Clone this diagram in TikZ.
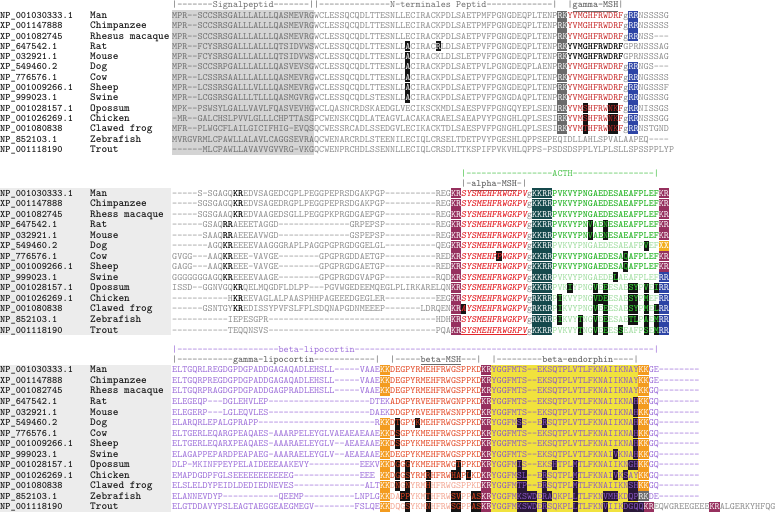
\documentclass[tikz,border=0pt]{standalone}
\usepackage{xcolor}
\definecolor{seqgry}{HTML}{8A8A8A}
\definecolor{sigtxt}{HTML}{6E6E6E}
\definecolor{sigbg}{HTML}{D4D4D4}
\definecolor{rkgray}{HTML}{6A6A6A}
\definecolor{rrblue}{HTML}{2D44A5}
\definecolor{gamred}{HTML}{C62828}
\definecolor{kkmaroon}{HTML}{96305E}
\definecolor{alpred}{HTML}{E3262B}
\definecolor{kkteal}{HTML}{15494C}
\definecolor{actgrn}{HTML}{2AB52A}
\definecolor{actfad}{HTML}{9ADB9A}
\definecolor{hlgrn}{HTML}{33CC33}
\definecolor{xxorg}{HTML}{F2B01E}
\definecolor{lipo}{HTML}{9A6AD8}
\definecolor{kkorg}{HTML}{F39B1F}
\definecolor{bmsh}{HTML}{E2431F}
\definecolor{bmshfad}{HTML}{F2A08C}
\definecolor{endyel}{HTML}{F1E23D}
\definecolor{endp}{HTML}{8B57C9}
\definecolor{hlblk}{HTML}{141414}
\definecolor{hlpur}{HTML}{2A1838}
\definecolor{hdrgrn}{HTML}{45C045}
\definecolor{hdrgry}{HTML}{6A6A6A}
\definecolor{namebg}{HTML}{ECECEC}
\definecolor{idtext}{HTML}{1A1A1A}

\newcommand{\seqfont}{\fontsize{9.657}{10}\selectfont\ttfamily}
\newcommand{\cw}{5.07}
\newcommand{\bl}{2.95}
% letter colours inside a row
\newcommand{\cW}[1]{\textcolor{white}{#1}}
\newcommand{\cR}[1]{\textcolor{gamred}{#1}}
\newcommand{\cK}[1]{\textcolor{black}{\bfseries #1}}
\newcommand{\cA}[1]{\textcolor{alpred}{\bfseries\itshape #1}}
\newcommand{\cG}[1]{\textcolor{actgrn}{\bfseries #1}}
\newcommand{\cF}[1]{\textcolor{actfad}{#1}}
\newcommand{\cH}[1]{\textcolor{hlgrn}{\bfseries #1}}
\newcommand{\cM}[1]{\textcolor{bmsh}{#1}}
\newcommand{\cL}[1]{\textcolor{bmshfad}{#1}}
\newcommand{\cE}[1]{\textcolor{endp}{#1}}
\newcommand{\cS}[1]{\textcolor{seqgry}{#1}}
% row text and box at column
\newcommand{\sq}[4]{\node[seq,#3] (\blk r#1c#2) at ({172+#2*\cw},{\yo+\dy*(#1-1)+\bl}) {#4};}
\newcommand{\bx}[4]{\fill[#4] ({172+#2*\cw},{\yo+\dy*(#1-1)-5}) rectangle ++({#3*\cw},10);}
% accession and species column
\newcommand{\idcol}[4]{%
  \foreach \idn/\spc [count=\i] in {NP\_001030333.1/Man, XP\_001147888/Chimpanzee,
      XP\_001082745/#3, NP\_647542.1/Rat, NP\_032921.1/Mouse, XP\_549460.2/Dog,
      NP\_776576.1/Cow, NP\_001009266.1/Sheep, NP\_999023.1/Swine,
      NP\_001028157.1/Opossum, NP\_001026269.1/Chicken, NP\_001080838/Clawed frog,
      NP\_852103.1/Zebrafish, NP\_001118190/Trout}
  {\node[idtxt] (#4id\i) at (0,{#1+#2*(\i-1)+\bl}) {\idn};
   \node[sptxt] (#4sp\i) at (90,{#1+#2*(\i-1)+\bl}) {\spc};}}

\begin{document}
\begin{tikzpicture}[x=1pt, y=-1pt,
    seq/.style={inner sep=0pt, anchor=base west, font=\seqfont, text=seqgry},
    sig/.style={text=sigtxt},
    lp/.style={text=lipo},
    hdr/.style={seq, text=hdrgry},
    idtxt/.style={inner sep=0pt, anchor=base west, text=idtext,
      font=\fontsize{9.9}{10}\selectfont\ttfamily\bfseries},
    sptxt/.style={idtxt, font=\fontsize{10.8}{10}\selectfont\ttfamily\bfseries}]
\useasboundingbox (0,0) rectangle (777,515);

%%% block 1: signal peptide, N-terminal peptide, gamma-MSH
\def\blk{a}\def\yo{15.5}\def\dy{10.3}
\fill[sigbg] (172,10.3) rectangle ({172+28*\cw},154.6);
\foreach \rw in {1,...,12} {\bx{\rw}{76}{2}{rkgray}}
\foreach \rw in {1,2,3,6,7,8,9,10,11,12} {\bx{\rw}{90}{2}{rrblue}}
\foreach \rw/\cl in {4/46,5/46,6/46,7/46,8/46,9/46,4/52,10/81,11/81,12/81,
    10/86,11/86,12/86,10/87,11/87,12/87} {\bx{\rw}{\cl}{1}{hlblk}}

\node[hdr] (hdA1) at (172,{4.5+\bl}) {|-------Signalpeptid-------||--------------N-terminales Peptid-------------|};
\node[hdr] (hdA2) at ({172+78*\cw},{4.5+\bl}) {|\underline{\textbf{gamma-MSH}}|};
\idcol{\yo}{\dy}{Rhesus macaque}{a}

\sq{1}{0}{sig}{MPR--SCCSRSGALLLALLLQASMEVRG}
\sq{1}{28}{}{WCLESSQCQDLTTESNLLECIRACKPDLSAETPMFPGNGDEQPLTENP}
\sq{1}{76}{}{\cW{RK}\cR{YVMGHFRWDRF}g\cW{RR}NSSSSG}
\sq{2}{0}{sig}{MPR--SCCSRSGALLLALLLQASMEVRG}
\sq{2}{28}{}{WCLESSQCQDLTTESNLLECIRACKPDLSAETPMFPGNGDEQPLTENP}
\sq{2}{76}{}{\cW{RK}\cR{YVMGHFRWDRF}g\cW{RR}NSSSSS}
\sq{3}{0}{sig}{MPR--SCCSRSGALLLALLLQASMEVRG}
\sq{3}{28}{}{WCLESSQCQDLTTESNLLECIRACKPDLSAETPVFPGNGDEQPLTENP}
\sq{3}{76}{}{\cW{RK}\cR{YVMGHFRWDRF}g\cW{RR}NSS---}
\sq{4}{0}{sig}{MPR--FCYSRSGALLLALLLQTSIDVWS}
\sq{4}{28}{}{WCLESSQCQDLTTESNLL\cW{A}CIRAC\cW{R}LDLSAETPVFPGNGDEQPLTENP}
\sq{4}{76}{}{\cW{RK}\cK{YVMGHFRWDRF}GPRNSSSAG}
\sq{5}{0}{sig}{MPR--FCYSRSGALLLALLLQTSIDVWS}
\sq{5}{28}{}{WCLESSQCQDLTTESNLL\cW{A}CIRACKLDLSLETPVFPGNGDEQPLTENP}
\sq{5}{76}{}{\cW{RK}\cK{YVMGHFRWDRF}GPRNSSSAG}
\sq{6}{0}{sig}{MPR--SCCSRPGALLLALLLQASVEVSG}
\sq{6}{28}{}{WCLESSQCQDLTTESNLL\cW{A}CIRACKPDLSAETPVLPGNGDEQPLAENP}
\sq{6}{76}{}{\cW{RK}\cR{YVMGHFRWDRF}g\cW{RR}NGS---}
\sq{7}{0}{sig}{MPR--LCSSRSAALLLALLLQASMEVRG}
\sq{7}{28}{}{WCLESSQCQDLTTESNLL\cW{A}CIRACKPDLSAETPVFPGNGDEQPLTENP}
\sq{7}{76}{}{\cW{RK}\cR{YVMGHFRWDRF}g\cW{RR}NGSSSS}
\sq{8}{0}{sig}{MPR--LCSSRSGALLLVLLLQASMEVRG}
\sq{8}{28}{}{WCLESSQCQDLTTESNLL\cW{A}CIRACKPDLSAETPVFPGNGDEQPLTENP}
\sq{8}{76}{}{\cW{RK}\cR{YVMGHFRWDRF}g\cW{RR}NGSSSF}
\sq{9}{0}{sig}{MPR--LCGSRSGALLLTLLLQASMGVRG}
\sq{9}{28}{}{WCLESSQCQDLSTESNLL\cW{A}CIRACKPDLSAETPVFPGNGDAQPLTENP}
\sq{9}{76}{}{\cW{RK}\cR{YVMGHFRWDRF}g\cW{RR}NGSSSG}
\sq{10}{0}{sig}{MPK--PSWSYLGALLVAVLFQASVEVHG}
\sq{10}{28}{}{WCLQASNCRDSKAEDGLVECIKSCKMDLSAESPVFPGNGQYEPLSENI}
\sq{10}{76}{}{\cW{RK}\cR{YVMSHFRWNKF}g\cW{RR}NISSGS}
\sq{11}{0}{sig}{-MR--GALCHSLPVVLGLLLCHPTTASG}
\sq{11}{28}{}{PCWENSKCQDLATEAGVLACAKACRAELSAEAPVYPGNGHLQPLSESI}
\sq{11}{76}{}{\cW{RK}\cR{YVMSHFRWNKF}g\cW{RR}NSSSGG}
\sq{12}{0}{sig}{MFR--PLWGCFLAILGICIFHIG-EVQS}
\sq{12}{28}{}{QCWESSRCADLSSEDGVLECIKACKTDLSAESPVFPGNGHLQPLSESI}
\sq{12}{76}{}{\cW{RK}\cR{YVMTHFRWNKF}g\cW{RR}NSTGND}
\sq{13}{0}{sig}{MVRGVRMLCPAWLLALAVLCAGGSEVRA}
\sq{13}{28}{}{QCWENARCRDLSTEENILECIQLCRSELTDETPVYPGESHLQPPSEPE}
\sq{13}{76}{}{QIDLLAHLSPVALAAPEQ----}
\sq{14}{0}{sig}{------MLCPAWLLAVAVVGVVRG-VKG}
\sq{14}{28}{}{QCWENPRCHDLSSENNLLECIQLCRSDLTTKSPIFPVKVHLQPPS-PS}
\sq{14}{76}{}{DSDSPPLYLPLSLLSPSSPPLYP}

%%% block 2: alpha-MSH and ACTH
\def\blk{b}\def\yo{193.3}\def\dy{10.52}
\fill[namebg] (0,188) rectangle (171,335.4);
\foreach \rw in {1,...,14} {\bx{\rw}{55}{2}{kkmaroon} \bx{\rw}{71}{4}{kkteal}}
\foreach \rw in {1,2,3,4,5,7,8} {\bx{\rw}{96}{2}{kkmaroon}}
\bx{6}{96}{2}{xxorg}
\foreach \rw in {9,...,14} {\bx{\rw}{96}{2}{rrblue}}
\foreach \rw/\cl in {4/82,4/85,5/82,5/85,6/93,7/64,7/89,8/89,9/87,
    10/78,10/83,10/85,10/90,10/91,10/93,10/95,
    11/76,11/83,11/84,11/85,11/90,11/91,11/93,
    12/57,12/76,12/83,12/85,12/90,12/91,12/93,12/95,
    13/76,13/80,13/83,13/85,13/90,13/91,13/93,13/95,
    14/80,14/83,14/85,14/88,14/93,14/95} {\bx{\rw}{\cl}{1}{hlblk}}

\node[hdr, text=hdrgrn] (hdB1) at ({172+57*\cw},{174+\bl}) {|-----------------ACTH----------------|};
\node[hdr] (hdB2) at ({172+57*\cw},{184+\bl}) {|-\underline{\textbf{alpha-MSH}}-|};
\idcol{\yo}{\dy}{Rhess macaque}{b}

\sq{1}{0}{}{-----S-SGAGQ\cK{KR}EDVSAGEDCGPLPEGGPEPRSDGAKPGP----------REG}
\sq{1}{55}{}{\cW{KR}\cA{SYSMEHFRWGKPV}g\cW{KKRR}\cG{PVKVYPNGAEDESAEAFPLEF}\cW{KR}}
\sq{2}{0}{}{-----SGSGAGQ\cK{KR}EDVSAGEDRGPLPEGGPEPRSDGAKPGP----------REG}
\sq{2}{55}{}{\cW{KR}\cA{SYSMEHFRWGKPV}g\cW{KKRR}\cG{PVKVYPNGAEDESAEAFPLEF}\cW{KR}}
\sq{3}{0}{}{-----SGSGAAQ\cK{KR}EDVAAGEDSGLLPEGGPKPRGDGAEPGP----------REG}
\sq{3}{55}{}{\cW{KR}\cA{SYSMEHFRWGKPV}g\cW{KKRR}\cG{PVKVYPNGAEDESAEAFPLEF}\cW{KR}}
\sq{4}{0}{}{------GSAQ\cK{RR}AEEETAGGD--------------GRPEPSP----------REG}
\sq{4}{55}{}{\cW{KR}\cA{SYSMEHFRWGKPV}g\cW{KKRR}\cG{PVKVYPNVAENESAEAFPLEF}\cW{KR}}
\sq{5}{0}{}{------SAAQ\cK{RR}AEEEAVWGD--------------GSPEPSP----------REG}
\sq{5}{55}{}{\cW{KR}\cA{SYSMEHFRWGKPV}g\cW{KKRR}\cG{PVKVYPNVAENESAEAFPLEF}\cW{KR}}
\sq{6}{0}{}{-------AGQ\cK{KR}EEEEVAAGGGRAPLPAGGPGPRGDGGELGL----------QEG}
\sq{6}{55}{}{\cW{KR}\cA{SYSMEHFRWGKPV}g\cW{KKRR}\cF{PVKVYPNGAEDESAEAFP}\cH{V}\cF{EF}\cW{XX}}
\sq{7}{0}{}{GVGG---AAQ\cK{KR}EEE-VAVGE--------GPGPRGDDAETGP----------RED}
\sq{7}{55}{}{\cW{KR}\cA{SYSMEHFPWGKPV}g\cW{KKRR}\cG{PVKVYPNGAEDESAQAFPLEF}\cW{KR}}
\sq{8}{0}{}{GAGG---AAQ\cK{KR}EEE-VAVGE--------GPGPRGDGAETGP----------RED}
\sq{8}{55}{}{\cW{KR}\cA{SYSMEHFRWGKPV}g\cW{KKRR}\cG{PVKVYPNGAEDESAQAFPLEF}\cW{KR}}
\sq{9}{0}{}{GGGGGGGAGQ\cK{KR}EEEEVAAGE--------GPGPRGDGVAPGP----------RQD}
\sq{9}{55}{}{\cW{KR}\cA{SYSMEHFRWGKPV}g\cW{KKRR}\cF{PVKVYPNGAEDE}\cH{L}\cF{AEAFPLEF}\cW{RR}}
\sq{10}{0}{}{ISSD--GGNVGQ\cK{KR}QELMQGDFLDLPP---PGVWGEDEEMQEGLPLIRKARELQN}
\sq{10}{55}{}{\cW{KR}\cA{SYSMEHFRWGKPV}g\cW{KKRR}\cF{PVK}\cH{I}\cF{YPNG}\cH{V}\cF{E}\cH{E}\cF{ESAE}\cH{SY}\cF{P}\cH{V}\cF{E}\cH{I}\cW{RR}}
\sq{11}{0}{}{-----------H\cK{KR}EEVAGLALPAASPHHPAGEEEDGEGLER----------EEG}
\sq{11}{55}{}{\cW{KR}\cA{SYSMEHFRWGKPV}g\cW{RKRR}\cF{P}\cH{I}\cF{KVYPNG}\cH{VDE}\cF{ESAE}\cH{SY}\cF{P}\cH{M}\cF{EF}\cW{RR}}
\sq{12}{0}{}{------GSNTGY\cK{KR}EDISSYPVFSLFPLSDQNAPGDNMEEEP-------LDRQEN}
\sq{12}{55}{}{\cW{KR}\cA{AYSMEHFRWGKPV}g\cW{RKRR}\cF{P}\cH{I}\cF{KVYPNG}\cH{V}\cF{E}\cH{E}\cF{ESAE}\cH{SY}\cF{P}\cH{M}\cF{E}\cH{L}\cW{RR}}
\sq{13}{0}{}{-----------IEPESGPR---------------------------------HDH}
\sq{13}{55}{}{\cW{KR}\cA{SYSMEHFRWGKPV}g\cW{RKRR}\cF{P}\cH{I}\cF{KVY}\cH{T}\cF{NG}\cH{V}\cF{E}\cH{E}\cF{ESAE}\cH{TL}\cF{P}\cH{A}\cF{E}\cH{M}\cW{RR}}
\sq{14}{0}{}{-----------TEQQNSVS---------------------------------PQA}
\sq{14}{55}{}{\cW{KR}\cA{\underline{SYSMEHFRWGKPV}}g\cW{KKRR}\cF{PVKVY}\cH{T}\cF{NG}\cH{V}\cF{E}\cH{E}\cF{ES}\cH{S}\cF{EAFP}\cH{S}\cF{E}\cH{M}\cW{RR}}

%%% block 3: gamma-lipocortin, beta-MSH, beta-endorphin
\def\blk{c}\def\yo{370}\def\dy{10.52}
\fill[namebg] (0,364.7) rectangle (171,512.1);
\fill[endyel] ({172+63*\cw},364.74) rectangle ({172+92*\cw},512.06);
\bx{14}{92}{1}{endyel}
\foreach \rw in {1,2,3,6,7,8,9,10,11,12,13,14} {\bx{\rw}{41}{2}{kkorg}}
\foreach \rw in {1,...,14} {\bx{\rw}{61}{2}{kkmaroon}}
\foreach \rw in {1,...,12} {\bx{\rw}{92}{2}{kkorg}}
\bx{13}{92}{2}{rkgray}
\bx{14}{93}{2}{kkmaroon}
\bx{14}{106}{2}{kkmaroon}
\foreach \rw/\cl in {6/44,6/48,7/44,8/44,10/44,10/46,10/56,
    11/44,11/46,11/50,11/55,11/56,11/58,12/44,12/46,12/50,
    13/45,13/46,13/50,13/55,13/56,13/59,13/60,
    14/46,14/50,14/55,14/56,14/59,14/60} {\bx{\rw}{\cl}{1}{hlblk}}
\foreach \rw/\cl in {4/91,5/91,6/68,6/73,6/91,7/91,8/91,9/87,9/91,
    10/68,10/75,10/79,10/90,10/91,
    11/68,11/69,11/73,11/79,11/87,11/89,
    12/68,12/69,12/73,12/79,12/90,12/91,
    13/68,13/69,13/70,13/71,13/73,13/74,13/79,13/85,13/86,13/87,13/90,13/91,
    14/68,14/69,14/70,14/71,14/73,14/79,14/85,14/89,14/90,14/91,14/92} {\bx{\rw}{\cl}{1}{hlpur}}

\node[hdr, text=lipo] (hdC1) at (172,{350+\bl}) {|--------------------beta-lipocortin-----------------------------------------------------------|};
\node[hdr] (hdC2) at (172,{360+\bl}) {|-----------\textbf{gamma-lipocortin}------------|};
\node[hdr] (hdC3) at ({172+43*\cw},{360+\bl}) {|-----\underline{\textbf{beta-MSH}}---|};
\node[hdr] (hdC4) at ({172+63*\cw},{360+\bl}) {|---------\textbf{beta-endorphin}----|};
\idcol{\yo}{\dy}{Rhess macaque}{c}

\sq{1}{0}{lp}{ELTGQRLREGDGPDGPADDGAGAQADLEHSLL-----VAAE}
\sq{1}{41}{lp}{\cW{KK}\cM{DEGPYRMEHFRWGSPPKD}\cW{KR}\cE{YGGFMTS--EKSQTPLVTLFKNAIIKNAY}\cW{KK}GE--------}
\sq{2}{0}{lp}{ELTGQRPREGDGPDGPADDGAGAQADLEHSLL-----VAAE}
\sq{2}{41}{lp}{\cW{KK}\cM{DEGPYRMEHFRWGSPPKD}\cW{KR}\cE{YGGFMTS--EKSQTPLVTLFKNAIIKNAY}\cW{KK}GE--------}
\sq{3}{0}{lp}{ELTGQRPRAGDGPDGPADDGAGPRADLEHSLL-----VAAE}
\sq{3}{41}{lp}{\cW{KK}\cM{DEGPYRMEHFRWGSPPKD}\cW{KR}\cE{YGGFMTS--EKSQTPLVTLFKNAIIKNAY}\cW{KK}GQ--------}
\sq{4}{0}{lp}{ELEGEQP---DGLEHVLEP--------------------DT}
\sq{4}{41}{lp}{EK\cM{ADGPYRVEHFRWGNPPKD}\cW{KR}\cE{YGGFMTS--EKSQTPLVTLFKNAIIKNAH}\cW{KK}GQ--------}
\sq{5}{0}{lp}{ELEGERP---LGLEQVLES--------------------DA}
\sq{5}{41}{lp}{EK\cM{DDGPYRVEHFRWSNPPKD}\cW{KR}\cE{YGGFMTS--EKSQTPLVTLFKNAIIKNAH}\cW{KK}GQ--------}
\sq{6}{0}{lp}{ELARQRLEPALGPRAPP-----------------------R}
\sq{6}{41}{lp}{\cW{KK}\cM{DTGPYKMEHFRWGSPPKD}\cW{KR}\cE{YGGFMSS--ERSQTPLVTLFKNAIIKNAH}\cW{KK}GQ--------}
\sq{7}{0}{lp}{ELTGERLEQARGPEAQAES-AAARPELEYGLVAEAEAEAAE}
\sq{7}{41}{lp}{\cW{KK}\cM{DSGPYKMEHFRWGSPPKD}\cW{KR}\cE{YGGFMTS--EKSQTPLVTLFKNAIIKNAH}\cW{KK}GQ--------}
\sq{8}{0}{lp}{ELTGERLEQARXPEAQAES-AAARAELEYGLV--AEAEAAE}
\sq{8}{41}{lp}{\cW{KK}\cM{DSGPYKMEHFRWGSPPKD}\cW{KR}\cE{YGGFMTS--EKSQTPLVTLFKNAIIKNAH}\cW{KK}GQ--------}
\sq{9}{0}{lp}{ELAGAPPEPARDPEAPAEG-AAARAELEYGLV--AEAEAAE}
\sq{9}{41}{lp}{\cW{KK}\cM{DEGPYKMEHFRWGSPPKD}\cW{KR}\cE{YGGFMTS--EKSQTPLVTLFKNAIVKNAH}\cW{KK}GQ--------}
\sq{10}{0}{lp}{DLP-MKINFPEYPELAIDEEEAAKEVY----------EEKV}
\sq{10}{41}{lp}{\cW{KK}\cM{DGGGYKMEHFRWGTPPKD}\cW{KR}\cE{YGGFMIS--EKSHTPLMTLFKNAIIKNGH}\cW{KK}GQ--------}
\sq{11}{0}{lp}{EMAPDGDPFGLSEEEEEEEEEEEG-------------EEE}
\sq{11}{41}{lp}{\cW{KK}\cM{DGGSYRMRHFRWHAPLKD}\cW{KR}\cE{YGGFMSL--ERSQTPLMTLFKNAIVKSAY}\cW{KK}GQ--------}
\sq{12}{0}{lp}{ELSLELDYPEIDLDEDIEDNEVES--------------ALT}
\sq{12}{41}{lp}{\cW{KK}\cL{D}\cM{N}\cL{G}\cM{N}\cL{YRM}\cM{H}\cL{HFRWGSPPKD}\cW{KR}\cE{YGGFMTP--ERSQTPLMTLFKNAIIKNSH}\cW{KK}GQ--------}
\sq{13}{0}{lp}{ELANNEVDYP-----------QEEMP----------LNPLG}
\sq{13}{41}{lp}{\cW{KK}\cL{DA}\cM{PP}\cL{YKM}\cM{T}\cL{HFRW}\cM{SV}\cL{PP}\cM{AS}\cW{KR}\cE{YGGFMKSWDERAQKPLLTLFKNVMHKDQP}\cW{RK}DE--------}
\sq{14}{0}{lp}{ELGTDDAVYPSLEAGTAEGGEAEGMEGV--------FSLQE}
\sq{14}{41}{lp}{\cW{KK}\cL{DQG}\cM{S}\cL{YKM}\cM{N}\cL{HFRW}\cM{SG}\cL{PP}\cM{AS}\cW{KR}\cE{YGGFMKSWDERSQKPLLTLFKNVIIKDGQQ}\cW{KR}\cS{EQWGREEGEEE}\cW{KR}\cS{ALGERKYHFQG}}
\end{tikzpicture}
\end{document}
